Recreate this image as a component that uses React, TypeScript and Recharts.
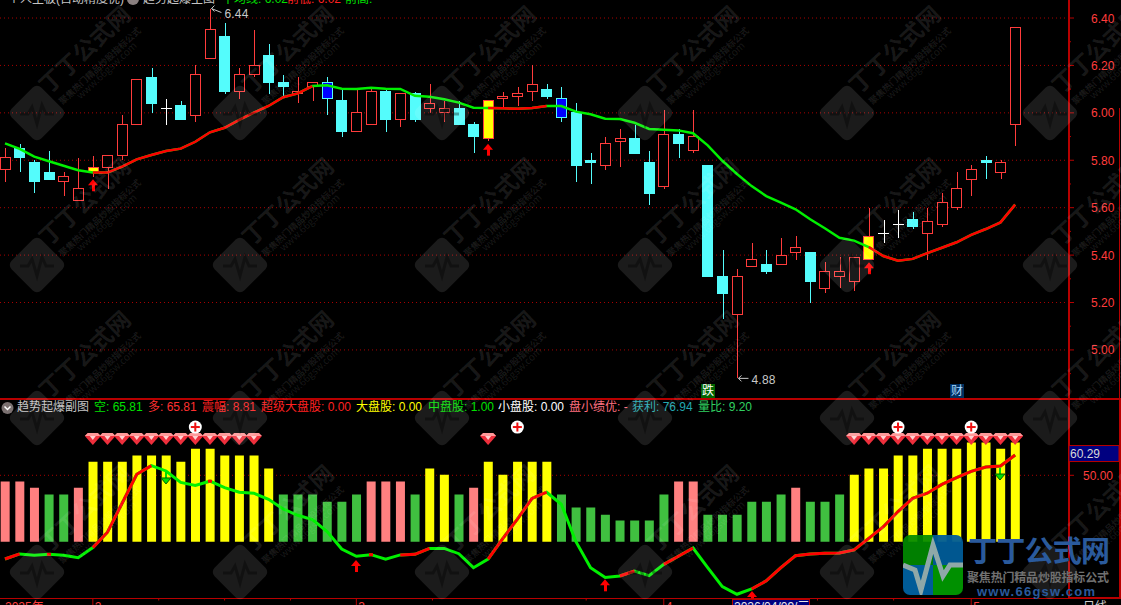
import React from 'react'
import { Bar, CartesianGrid, Cell, ComposedChart, Line, XAxis, YAxis } from 'recharts'

// daily candles
const opens = [5.76,5.85,5.79,5.75,5.71,5.63,5.75,5.77,5.82,5.95,6.15,6.02,6.03,5.99,6.23,6.32,6.09,6.16,6.24,6.13,6.08,6.11,6.13,6.05,5.92,5.95,6.09,5.97,6.08,6.02,6.00,6.02,5.95,5.89,6.06,6.07,6.09,6.10,6.06,6.00,5.80,5.78,5.88,5.89,5.79,5.69,5.91,5.84,5.78,5.31,5.15,5.35,5.36,5.36,5.41,5.41,5.26,5.31,5.29,5.38,5.49,5.53,5.55,5.49,5.53,5.60,5.72,5.80,5.75,5.95]
const closes = [5.81,5.81,5.71,5.72,5.73,5.68,5.77,5.82,5.95,6.14,6.04,6.02,5.97,6.16,6.35,6.09,6.16,6.20,6.13,6.11,6.09,6.13,6.06,5.92,6.00,6.09,5.97,6.08,5.97,6.04,6.02,5.95,5.90,6.05,6.07,6.08,6.12,6.07,5.98,5.78,5.79,5.87,5.89,5.83,5.66,5.91,5.87,5.90,5.31,5.24,5.31,5.38,5.33,5.40,5.43,5.29,5.33,5.33,5.39,5.48,5.49,5.53,5.52,5.54,5.62,5.68,5.76,5.79,5.79,6.36]
const highs = [5.85,5.87,5.80,5.84,5.75,5.81,5.82,5.82,5.99,6.14,6.19,6.06,6.05,6.20,6.44,6.38,6.19,6.35,6.29,6.16,6.15,6.13,6.15,6.10,6.10,6.10,6.10,6.08,6.09,6.12,6.05,6.05,5.96,6.05,6.09,6.11,6.20,6.12,6.11,6.04,5.83,5.90,5.93,5.95,5.84,6.01,5.93,6.01,5.78,5.42,5.34,5.45,5.42,5.47,5.48,5.41,5.37,5.39,5.39,5.60,5.55,5.59,5.58,5.60,5.66,5.75,5.78,5.82,5.80,6.36]
const lows = [5.71,5.75,5.66,5.72,5.65,5.63,5.73,5.68,5.80,5.95,6.00,5.95,5.97,5.96,6.23,6.08,6.06,6.15,6.08,6.07,6.04,6.05,5.99,5.90,5.92,5.95,5.92,5.94,5.96,6.00,5.96,5.95,5.83,5.88,6.02,6.03,6.05,6.06,5.96,5.71,5.70,5.76,5.77,5.83,5.61,5.68,5.81,5.83,5.31,5.13,4.88,5.35,5.32,5.36,5.38,5.20,5.24,5.26,5.25,5.38,5.45,5.47,5.51,5.38,5.52,5.59,5.65,5.72,5.72,5.86]
const yellowDays = [6, 33, 59]
const blueDays = [22, 38]

const trendLine = [5.871,5.848,5.815,5.796,5.777,5.758,5.748,5.748,5.773,5.804,5.822,5.839,5.849,5.878,5.918,5.937,5.970,6.001,6.029,6.066,6.082,6.113,6.116,6.102,6.101,6.106,6.102,6.101,6.072,6.068,6.057,6.043,6.022,6.020,6.019,6.017,6.020,6.029,6.029,6.005,5.994,5.975,5.974,5.958,5.932,5.929,5.926,5.914,5.863,5.798,5.742,5.691,5.649,5.621,5.593,5.551,5.513,5.473,5.461,5.434,5.396,5.376,5.384,5.408,5.431,5.454,5.485,5.510,5.538,5.613]
const trendRedRuns = [[6, 21], [33, 37], [59, 69]]
const buyArrowsMain: [number, number][] = [[6, 5.72], [33, 5.87], [59, 5.37]]
const priceMarks: [number, number][] = [[14, 6.44], [50, 4.88]]

// lower panel
const subBase = 16.3
const subBars = [46.8,46.8,43.7,40.2,40.2,43.7,56.9,56.9,56.9,60,60,60,56.9,63.5,63.5,60,60,60,53.4,40.2,40.2,40.2,36.6,36.6,40.2,46.8,46.8,46.8,40.2,53.4,50.3,40.2,43.7,56.9,50.3,56.9,56.9,56.9,40.2,33.6,33.6,30,27,27,27,40.2,46.8,46.8,30,30,30,36.6,36.6,40.2,43.7,36.6,36.6,40.2,50.3,53.4,53.4,60,60,63.5,63.5,63.5,66.6,66.6,63.5,66.6]
// p pink, g green, y yellow
const subBarKinds = 'pppggpyyyyyyyyyyyyyggggggpppgyygpyyyyyggggggggppggggggpgggyyyyyyyyyyyy'
const subLine = [7.5,10.1,9.4,9.9,9.4,8.2,13.3,21.1,35.8,50.5,54.9,52.2,46.4,44.8,47,43.7,41.4,40.9,37.8,32.9,29.7,27.5,21.4,12.6,8.9,9.7,7.4,9.6,9.9,12.9,12.9,10.2,3.1,7.5,17.9,27.7,38.3,41.4,35.3,16.3,3.1,-1.9,-1.1,1.4,-0.9,4.8,8.9,13.1,3.1,-6.5,-10.4,-7.7,-3.6,3.1,9.2,10.1,10.4,10.6,12.1,18,23.9,31.6,38.3,40.9,45.4,48.8,52,54.2,54.7,60.29]
const subRedRuns = [[0, 1], [6, 10], [27, 29], [33, 37], [42, 43], [45, 47], [51, 69]]
const subBlips = [3, 14, 25]
const gemDays = [6,7,8,9,10,11,12,13,14,15,16,17,33,58,59,60,61,62,63,64,65,66,67,68,69]
const plusDays = [13, 35, 61, 66]
const buyArrowsSub: [number, number][] = [[24, 7], [41, -2.8], [51, -8.7]]
const sellArrowsSub: [number, number][] = [[11, 45.6], [68, 47.6]]

const priceTicks = [6.4,6.3,6.2,6.1,6.0,5.9,5.8,5.7,5.6,5.5,5.4,5.3,5.2,5.1,5.0,4.9]
const priceGrid = [6.4,6.2,6.0,5.8,5.6,5.4,5.2,5.0]
const timeTicks = [0,6,10.5,15,19.5,24,29.2,39.7,45,55.5,60.7,66]
const timeLabels: Record<number, string> = { 0: '2025年', 6: '2', 24: '3', 45: '4', 66: '5' }

const subLegend: [number, string, string][] = [
  [17, '趋势起爆副图', '#c4c4c4'],
  [94, '空: 65.81', '#00e000'],
  [148, '多: 65.81', '#ff3030'],
  [202, '震幅: 8.81', '#ff2020'],
  [261, '超级大盘股: 0.00', '#ff2020'],
  [356, '大盘股: 0.00', '#ffff00'],
  [428, '中盘股: 1.00', '#00e000'],
  [498, '小盘股: 0.00', '#ffffff'],
  [569, '盘小绩优: -', '#ff6f7f'],
  [632, '获利: 76.94', '#20a8b0'],
  [698, '量比: 9.20', '#30d060'],
]
const mainLegend: [number, string, string][] = [
  [8, '个人主板(自动精度优)', '#c4c4c4'],
  [143, '趋势起爆主图', '#c4c4c4'],
  [222, '平均线: 6.02', '#00e000'],
  [287, '前低: 6.02', '#ff2020'],
  [345, '前高:', '#00e000'],
]

const RED = '#ff3c3c'
const CYAN = '#54fcfc'
const AXIS = '#b80000'
const FONT = '"Liberation Sans", "Noto Sans CJK SC", sans-serif'
const X_DOMAIN: [number, number] = [-0.3415, 72.68]

const inRuns = (i: number, runs: number[][]) => runs.some(([a, b]) => i >= a && i <= b)
const pick = (list: [number, number][], i: number) => list.find(([d]) => d === i)?.[1] ?? null

const mainRows = opens.map((open, i) => {
  const special = yellowDays.includes(i) ? 'yellow' : blueDays.includes(i) ? 'blue' : null
  return {
    idx: i,
    open,
    close: closes[i],
    high: highs[i],
    low: lows[i],
    special,
    trend: trendLine[i],
    trendRed: inRuns(i, trendRedRuns) ? trendLine[i] : null,
    arrow: pick(buyArrowsMain, i),
    mark: pick(priceMarks, i),
  }
})

const subRows = subBars.map((top, i) => ({
  idx: i,
  bar: [subBase, top],
  line: subLine[i],
  lineRed: inRuns(i, subRedRuns) ? subLine[i] : null,
  blip: subBlips.includes(i) ? subLine[i] : null,
  gem: gemDays.includes(i) ? 68.9 : null,
  plus: plusDays.includes(i) ? 74.5 : null,
  buy: pick(buyArrowsSub, i),
  sell: pick(sellArrowsSub, i),
}))

function Candle(props: any) {
  const { x, y, width, height, payload } = props
  if (x == null || y == null) return <g />
  const { open, close, high, low, special } = payload
  const px = Math.abs(height) / (high - low)
  const top = Math.min(y, y + height)
  const yOf = (p: number) => top + (high - p) * px
  const cx = Math.round(x + width / 2) + 0.5
  const bodyTop = yOf(Math.max(open, close))
  const bodyH = Math.abs(open - close) * px
  const left = Math.round(x)

  let wick = RED
  let fill = '#000'
  let stroke = RED
  if (special === 'yellow') fill = '#ffff00'
  else if (special === 'blue') {
    wick = CYAN
    stroke = CYAN
    fill = '#0000ff'
  } else if (close === open) {
    wick = '#fff'
    stroke = '#fff'
  } else if (close < open) {
    wick = CYAN
    stroke = CYAN
    fill = CYAN
  }
  return (
    <g shapeRendering="crispEdges">
      <line x1={cx} x2={cx} y1={yOf(high)} y2={yOf(low)} stroke={wick} />
      {close === open ? (
        <line x1={left} x2={left + width} y1={bodyTop} y2={bodyTop} stroke={stroke} />
      ) : (
        <rect x={left + 0.5} y={bodyTop} width={width - 1} height={Math.max(bodyH, 1)} fill={fill} stroke={stroke} />
      )}
    </g>
  )
}

function UpArrow({ cx, cy, index }: any) {
  if (cy == null) return <g key={index} />
  const x = Math.round(cx)
  return (
    <g key={index} fill="#ff0000">
      <polygon points={`${x},${cy} ${x + 5},${cy + 6} ${x - 5},${cy + 6}`} />
      <rect x={x - 1} y={cy + 5} width={3} height={7} />
    </g>
  )
}

function DownArrow({ cx, cy, index }: any) {
  if (cy == null) return <g key={index} />
  const x = Math.round(cx)
  return (
    <g key={index} fill="#00e000">
      <rect x={x - 1} y={cy - 12} width={2} height={8} />
      <polygon points={`${x},${cy} ${x + 5},${cy - 6} ${x - 5},${cy - 6}`} stroke="#006000" />
    </g>
  )
}

function PriceMark({ cx, cy, index, payload }: any) {
  if (cy == null) return <g key={index} />
  const high = payload.mark > 5.5
  const x = cx + 0.5
  const tail = high ? cy + 4 : cy
  return (
    <g key={index} stroke="#c8c8c8" fill="none">
      <polyline points={`${x + 11},${tail} ${x + 1},${cy} ${x + 4},${cy - 3}`} />
      <polyline points={`${x + 1},${cy} ${x + 4},${cy + 3}`} />
      <text x={x + 14} y={high ? cy + 9 : cy + 6} fill="#c8c8c8" stroke="none" fontSize={12} fontFamily={FONT} letterSpacing={0.2}>
        {payload.mark.toFixed(2)}
      </text>
    </g>
  )
}

function Gem({ cx, cy, index }: any) {
  if (cy == null) return <g key={index} />
  return (
    <g key={index}>
      <polygon points={`${cx - 8},${cy - 2} ${cx - 5},${cy - 5} ${cx + 5},${cy - 5} ${cx + 8},${cy - 2} ${cx},${cy + 7}`} fill="#ee2f3c" />
      <polygon points={`${cx - 8},${cy - 2} ${cx - 5},${cy - 5} ${cx + 5},${cy - 5} ${cx + 8},${cy - 2}`} fill="#ff9a9a" />
      <polygon points={`${cx - 3},${cy - 2} ${cx + 3},${cy - 2} ${cx},${cy + 2}`} fill="#ffd0d0" />
    </g>
  )
}

function PlusBadge({ cx, cy, index }: any) {
  if (cy == null) return <g key={index} />
  return (
    <g key={index}>
      <circle cx={cx} cy={cy} r={6.5} fill="#fff" />
      <rect x={cx - 4.5} y={cy - 1} width={9} height={2} fill="#ee1111" />
      <rect x={cx - 1} y={cy - 4.5} width={2} height={9} fill="#ee1111" />
    </g>
  )
}

function Blip({ cx, cy, index }: any) {
  if (cy == null) return <g key={index} />
  return <rect key={index} x={cx - 2} y={cy - 1.5} width={4} height={3} fill="#ff0000" />
}

function PriceTick({ x, y, payload }: any) {
  const major = priceGrid.includes(payload.value)
  return (
    <g>
      <line x1={x} x2={x + (major ? 5 : 2)} y1={y} y2={y} stroke={AXIS} />
      {major && (
        <text x={x + 22} y={y + 4.5} fill={RED} fontSize={12} fontFamily={FONT}>
          {payload.value.toFixed(2)}
        </text>
      )}
    </g>
  )
}

function SubTick({ x, y, payload }: any) {
  if (payload.value === 60.29) {
    return (
      <g>
        <rect x={x} y={y - 9.5} width={50} height={16} fill="#000080" stroke={AXIS} />
        <text x={x + 1} y={y + 3} fill="#d8d8d8" fontSize={12} fontFamily={FONT}>
          60.29
        </text>
      </g>
    )
  }
  return (
    <g>
      <line x1={x} x2={x + 5} y1={y} y2={y} stroke={AXIS} />
      <text x={x + 14} y={y + 4.5} fill={RED} fontSize={12} fontFamily={FONT}>
        {payload.value.toFixed(2)}
      </text>
    </g>
  )
}

function TimeTick({ x, y, payload }: any) {
  const label = timeLabels[payload.value]
  return (
    <g>
      {payload.value !== 0 && <line x1={x} x2={x} y1={y} y2={y + (label ? 8 : 2)} stroke={AXIS} />}
      {label && (
        <text x={payload.value === 0 ? x : x + 2} y={y + 12} fill={RED} fontSize={12} fontFamily={FONT}>
          {label}
        </text>
      )}
    </g>
  )
}

const markCols = [37, 240, 442, 645, 847, 1050]
const markRows = [113, 265, 418, 572]

function Watermarks() {
  return (
    <svg width={1121} height={605} style={{ position: 'absolute', left: 0, top: 0, pointerEvents: 'none' }}>
      {markRows.map((y) =>
        markCols.map((x) => (
          <g key={`${x}-${y}`} transform={`translate(${x} ${y})`}>
            <g transform="rotate(-45)">
              <rect x={-21} y={-21} width={42} height={42} rx={6} fill="rgba(255,255,255,0.105)" />
            </g>
            <polyline points="-17,1 -9,1 -5,-6 0,11 5,-8 9,1 17,1" fill="none" stroke="rgba(0,0,0,0.35)" strokeWidth={3} />
            <g fill="rgba(255,255,255,0.1)" fontFamily='"Noto Sans CJK SC"' fontWeight={700} textAnchor="middle">
              <text transform="translate(48 -63) rotate(-43)" fontSize={23} y={8}>丁丁公式网</text>
              <text transform="translate(63 -47) rotate(-43)" fontSize={9} y={3}>聚焦热门精品炒股指标公式</text>
              <text transform="translate(70 -42) rotate(-43)" fontSize={10} y={3} fontWeight={400}>www.66gsw.com</text>
            </g>
          </g>
        )),
      )}
    </svg>
  )
}

function SiteLogo() {
  return (
    <svg width={1121} height={605} style={{ position: 'absolute', left: 0, top: 0, pointerEvents: 'none' }}>
      <defs>
        <clipPath id="logoClip">
          <rect x={903} y={535} width={60} height={60} rx={7} />
        </clipPath>
      </defs>
      <g clipPath="url(#logoClip)">
        <rect x={903} y={535} width={30} height={30} fill="#008a00" fillOpacity={0.92} />
        <rect x={933} y={535} width={30} height={30} fill="#005c98" fillOpacity={0.95} />
        <rect x={903} y={565} width={30} height={30} fill="#005c98" />
        <rect x={933} y={565} width={30} height={30} fill="#009000" />
        <polyline points="903,565 915,570 921,590 933,545 943,576 950,565 963,565" fill="none" stroke="#8fa8a8" strokeWidth={5} />
      </g>
      <text x={968} y={562} fill="#2a5a9c" fontSize={29} fontWeight={700} fontFamily='"Noto Sans CJK SC"' textLength={142}>丁丁公式网</text>
      <text x={967} y={582} fill="#707070" fontSize={12} fontWeight={700} fontFamily='"Noto Sans CJK SC"' textLength={142}>聚焦热门精品炒股指标公式</text>
      <text x={977} y={596} fill="#2a5a9c" fontSize={13} fontWeight={700} fontFamily={FONT} textLength={118}>www.66gsw.com</text>
    </svg>
  )
}

const Rule = ({ style }: { style: React.CSSProperties }) => (
  <div style={{ position: 'absolute', background: AXIS, ...style }} />
)

const Label = ({ x, top, text, color }: { x: number; top: number; text: string; color: string }) => (
  <span style={{ position: 'absolute', left: x, top, color, fontSize: 12, lineHeight: '14px', fontFamily: FONT, whiteSpace: 'pre' }}>
    {text}
  </span>
)

export default function App() {
  return (
    <div style={{ position: 'absolute', left: 0, top: 0, width: 1121, height: 605, background: '#000', overflow: 'hidden' }}>
      <div style={{ position: 'absolute', left: 0, top: 0 }}>
        <ComposedChart width={1121} height={399} data={mainRows} margin={{ top: 0, right: 0, bottom: 0, left: 0 }}>
          <CartesianGrid vertical={false} horizontalValues={priceGrid} stroke="#a80000" strokeDasharray="1 3" />
          <XAxis dataKey="idx" type="number" domain={X_DOMAIN} allowDataOverflow hide />
          <XAxis xAxisId="over" dataKey="idx" type="number" domain={X_DOMAIN} allowDataOverflow hide />
          <YAxis
            orientation="right"
            width={52}
            domain={[4.793, 6.476]}
            allowDataOverflow
            ticks={priceTicks}
            interval={0}
            tick={PriceTick}
            tickLine={false}
            tickSize={0}
            tickMargin={0}
            axisLine={{ stroke: AXIS, strokeWidth: 2 }}
          />
          <Bar dataKey={(d: any) => (d.special ? null : [d.low, d.high])} barSize={11} shape={Candle} isAnimationActive={false} />
          <Line dataKey="trend" stroke="#00f000" strokeWidth={2.5} dot={false} activeDot={false} isAnimationActive={false} />
          <Line dataKey="trendRed" stroke="#ff0000" strokeWidth={2.5} dot={false} activeDot={false} isAnimationActive={false} />
          <Bar xAxisId="over" dataKey={(d: any) => (d.special ? [d.low, d.high] : null)} barSize={11} shape={Candle} isAnimationActive={false} />
          <Line dataKey="arrow" stroke="none" dot={UpArrow} activeDot={false} isAnimationActive={false} />
          <Line dataKey="mark" stroke="none" dot={PriceMark} activeDot={false} isAnimationActive={false} />
        </ComposedChart>
      </div>

      <div style={{ position: 'absolute', left: 0, top: 399 }}>
        <ComposedChart width={1121} height={222} data={subRows} margin={{ top: 0, right: 0, bottom: 0, left: 0 }}>
          <CartesianGrid vertical={false} horizontalValues={[50]} stroke="#a80000" strokeDasharray="1 3" />
          <XAxis
            dataKey="idx"
            type="number"
            domain={X_DOMAIN}
            allowDataOverflow
            ticks={timeTicks}
            interval={0}
            height={22.5}
            tick={TimeTick}
            tickLine={false}
            tickSize={0}
            tickMargin={0}
            axisLine={{ stroke: AXIS }}
          />
          <YAxis
            orientation="right"
            width={52}
            domain={[-12.54, 88.73]}
            allowDataOverflow
            ticks={[50, 60.29]}
            interval={0}
            tick={SubTick}
            tickLine={false}
            tickSize={0}
            tickMargin={0}
            axisLine={{ stroke: AXIS, strokeWidth: 2 }}
          />
          <Bar dataKey="bar" barSize={9} isAnimationActive={false}>
            {subRows.map((row, i) => {
              const kind = subBarKinds[i]
              return <Cell key={row.idx} fill={kind === 'y' ? '#ffff00' : kind === 'p' ? '#ff8080' : '#40c040'} />
            })}
          </Bar>
          <Line dataKey="line" stroke="#00f000" strokeWidth={3} dot={false} activeDot={false} isAnimationActive={false} />
          <Line dataKey="lineRed" stroke="#ff0000" strokeWidth={3} dot={false} activeDot={false} isAnimationActive={false} />
          <Line dataKey="blip" stroke="none" dot={Blip} activeDot={false} isAnimationActive={false} />
          <Line dataKey="gem" stroke="none" dot={Gem} activeDot={false} isAnimationActive={false} />
          <Line dataKey="plus" stroke="none" dot={PlusBadge} activeDot={false} isAnimationActive={false} />
          <Line dataKey="buy" stroke="none" dot={UpArrow} activeDot={false} isAnimationActive={false} />
          <Line dataKey="sell" stroke="none" dot={DownArrow} activeDot={false} isAnimationActive={false} />
        </ComposedChart>
      </div>

      <Rule style={{ left: 0, top: 398, width: 1121, height: 2 }} />
      <Rule style={{ left: 1119, top: 108, width: 1, height: 290 }} />
      <Rule style={{ left: 1119, top: 399, width: 2, height: 199 }} />
      <Rule style={{ left: 1069, top: 597, width: 52, height: 2 }} />

      {mainLegend.map(([x, text, color]) => (
        <Label key={text} x={x} top={-8} text={text} color={color} />
      ))}
      <svg width={20} height={10} style={{ position: 'absolute', left: 124, top: 0 }}>
        <circle cx={9} cy={-1} r={6} fill="#8a8080" />
      </svg>

      <svg width={14} height={14} style={{ position: 'absolute', left: 1, top: 401 }}>
        <circle cx={6.5} cy={7} r={6} fill="#7a7070" />
        <polyline points="3.5,5.5 6.5,8.5 9.5,5.5" fill="none" stroke="#fff" strokeWidth={1.5} />
      </svg>
      {subLegend.map(([x, text, color]) => (
        <Label key={text} x={x} top={400} text={text} color={color} />
      ))}

      <div style={{ position: 'absolute', left: 701, top: 384, width: 14, height: 14, background: '#006400', color: '#fff', fontSize: 12, lineHeight: '14px', textAlign: 'center', fontFamily: FONT }}>跌</div>
      <div style={{ position: 'absolute', left: 950, top: 384, width: 14, height: 14, background: '#003060', color: '#a8d8ff', fontSize: 12, lineHeight: '14px', textAlign: 'center', fontFamily: FONT }}>财</div>

      <div style={{ position: 'absolute', left: 732, top: 599, width: 78, height: 8, background: '#000080', border: '1px solid #b80000', boxSizing: 'border-box' }} />
      <Label x={734} top={600} text="2026/04/09/三" color="#e8e8e8" />
      <Label x={1083} top={600} text="日线" color="#d0d0d0" />

      <Watermarks />
      <SiteLogo />
    </div>
  )
}
